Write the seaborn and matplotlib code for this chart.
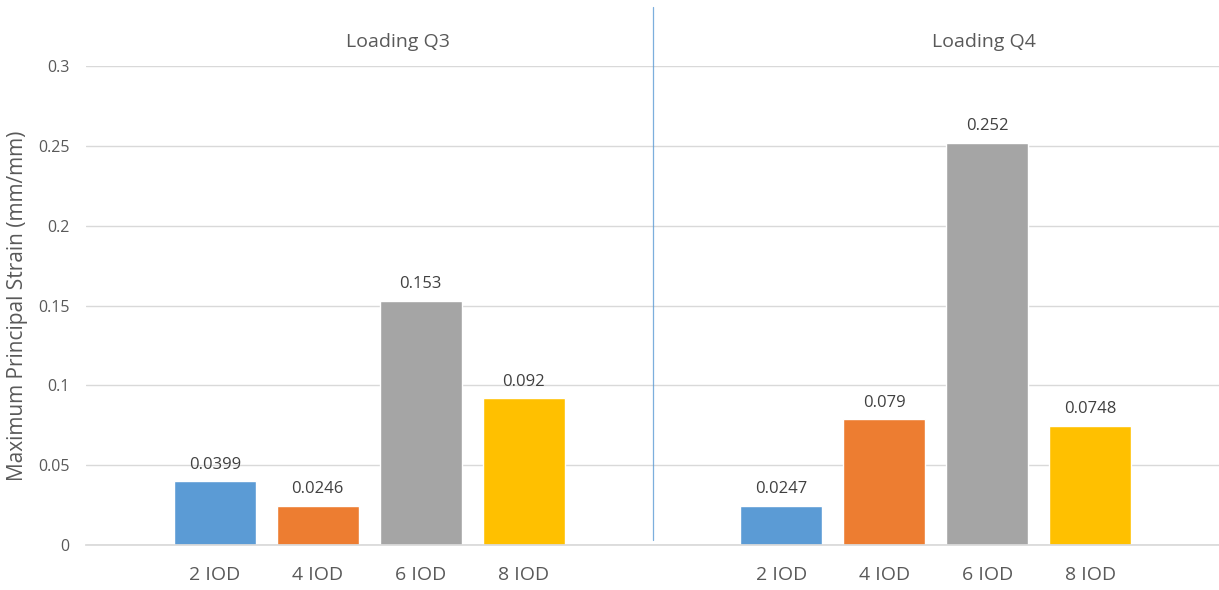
import matplotlib
matplotlib.use("Agg")
import matplotlib.pyplot as plt
import seaborn as sns
import pandas as pd

groups = ["Loading Q3", "Loading Q4"]
series = ["2 IOD", "4 IOD", "6 IOD", "8 IOD"]
q3_values = [0.0399, 0.0246, 0.153, 0.092]
q4_values = [0.0247, 0.079, 0.252, 0.0748]
q3_labels = ["0.0399", "0.0246", "0.153", "0.092"]
q4_labels = ["0.0247", "0.079", "0.252", "0.0748"]
y_ticks = [0, 0.05, 0.1, 0.15, 0.2, 0.25, 0.3]
y_tick_labels = ["0", "0.05", "0.1", "0.15", "0.2", "0.25", "0.3"]
colors = ["#5B9BD5", "#ED7D31", "#A5A5A5", "#FFC000"]

df = pd.DataFrame({
    "group": [groups[0]] * 4 + [groups[1]] * 4,
    "series": series * 2,
    "value": q3_values + q4_values,
})

sns.set_theme(style="white")
plt.rcParams["font.family"] = ["Open Sans", "DejaVu Sans"]

fig = plt.figure(figsize=(12.19, 5.90), dpi=100)
ax = fig.add_axes([86 / 1219, 1 - 545 / 590, 1 - 86 / 1219, (545 - 66) / 590])

sns.barplot(data=df, x="group", y="value", hue="series", order=groups,
            hue_order=series, palette=colors, width=0.727, gap=0.2,
            saturation=1, legend=False, ax=ax, errorbar=None)

ax.set_ylim(0, 0.3)
ax.set_xlim(-0.5, 1.5)
ax.set_yticks(y_ticks)
ax.set_yticklabels(y_tick_labels, fontsize=11.5, color="#595959")
ax.yaxis.grid(True, color="#D9D9D9", linewidth=1)
ax.set_axisbelow(True)
for s in ["top", "right", "left"]:
    ax.spines[s].set_visible(False)
ax.spines["bottom"].set_color("#D9D9D9")
ax.tick_params(axis="y", length=0, pad=12)
ax.set_xticks([])
ax.set_xlabel("")
ax.set_ylabel("Maximum Principal Strain (mm/mm)", fontsize=15, color="#595959")
ax.yaxis.set_label_coords(-58 / 1133, 0.5)

# data labels and per-bar category labels
labels_by_series = [[q3_labels[i], q4_labels[i]] for i in range(4)]
for i, cont in enumerate(ax.containers):
    ax.bar_label(cont, labels=labels_by_series[i], padding=6, fontsize=12, color="#404040")
    for p in cont.patches:
        cx = p.get_x() + p.get_width() / 2
        ax.text(cx, -0.0185, series[i], ha="center", va="center", fontsize=14,
                color="#595959", clip_on=False)

# group titles
title_offsets = [0.05, 0.085]
for j, g in enumerate(groups):
    ax.text(j + title_offsets[j], 0.315, g, ha="center", va="center", fontsize=14,
            color="#595959", clip_on=False)

# divider line
ax.axvline(0.5, ymin=5 / 479, ymax=(545 - 7) / 479, color="#5B9BD5", linewidth=0.9,
           alpha=0.8, clip_on=False)

fig.savefig("out.png", dpi=100)
